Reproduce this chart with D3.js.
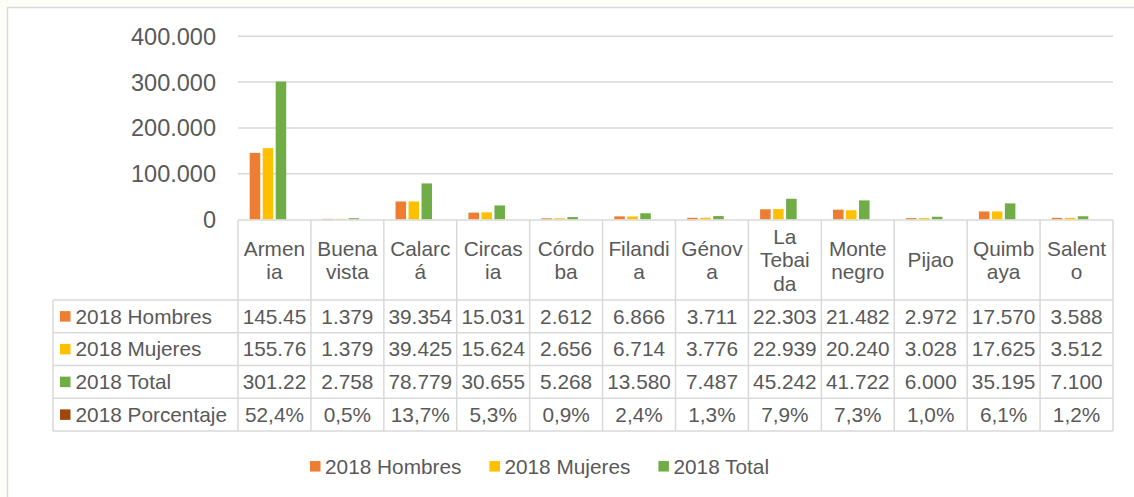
<!DOCTYPE html>
<html>
<head>
<meta charset="utf-8">
<script src="https://cdn.jsdelivr.net/npm/d3@7"></script>
<style>
    body { margin: 0; background: #fdfdf8; }
    svg { display: block; font-family: "Liberation Sans", Arial, sans-serif; }
</style>
</head>
<body>
<svg id="chart" width="1134" height="497"></svg>
<script>
// Municipios del Quindío, población 2018
const categories = ['Armenia', 'Buenavista', 'Calarcá', 'Circasia', 'Córdoba', 'Filandia',
    'Génova', 'La Tebaida', 'Montenegro', 'Pijao', 'Quimbaya', 'Salento'];

// how the header cells wrap in the table
const headerLines = [['Armen', 'ia'], ['Buena', 'vista'], ['Calarc', 'á'], ['Circas', 'ia'],
    ['Córdo', 'ba'], ['Filandi', 'a'], ['Génov', 'a'], ['La', 'Tebai', 'da'],
    ['Monte', 'negro'], ['Pijao'], ['Quimb', 'aya'], ['Salent', 'o']];

const hombres = [145455, 1379, 39354, 15031, 2612, 6866, 3711, 22303, 21482, 2972, 17570, 3588];
const mujeres = [155765, 1379, 39425, 15624, 2656, 6714, 3776, 22939, 20240, 3028, 17625, 3512];
const total = [301220, 2758, 78779, 30655, 5268, 13580, 7487, 45242, 41722, 6000, 35195, 7100];
const porcentaje = [52.4, 0.5, 13.7, 5.3, 0.9, 2.4, 1.3, 7.9, 7.3, 1.0, 6.1, 1.2];

const seriesNames = ['2018 Hombres', '2018 Mujeres', '2018 Total', '2018 Porcentaje'];
const seriesColors = ['#ED7D31', '#FFC000', '#70AD47', '#9E480E'];
const yTicks = [0, 100000, 200000, 300000, 400000];

const locale = d3.formatLocale({ decimal: ',', thousands: '.', grouping: [3], currency: ['$', ''] });
const fmtInt = locale.format(',d');
const fmtPct = locale.format('.1f');

const series = [
    { name: seriesNames[0], color: seriesColors[0], values: hombres, bar: hombres, label: hombres.map(fmtInt) },
    { name: seriesNames[1], color: seriesColors[1], values: mujeres, bar: mujeres, label: mujeres.map(fmtInt) },
    { name: seriesNames[2], color: seriesColors[2], values: total, bar: total, label: total.map(fmtInt) },
    // percentages sit on the same axis, so their bars are practically flat
    { name: seriesNames[3], color: seriesColors[3], values: porcentaje, bar: porcentaje.map(v => v / 100), label: porcentaje.map(v => fmtPct(v) + '%') }
];

const textColor = '#595959';
const lineColor = '#d9d9d9';
const fontSize = 20.8;

const svg = d3.select('#chart');

// chart frame
svg.append('rect')
    .attr('x', 7.5).attr('y', 7.5)
    .attr('width', 1200).attr('height', 600)
    .attr('fill', '#ffffff')
    .attr('stroke', lineColor)
    .attr('stroke-width', 1.5);

const plotLeft = 238, plotRight = 1113;
const y = d3.scaleLinear().domain([0, 400000]).range([219.5, 36.3]);
const x0 = d3.scaleBand().domain(categories).range([plotLeft, plotRight]).padding(0);
const x1 = d3.scaleBand().domain(seriesNames).range([0, x0.bandwidth()])
    .paddingInner(0.19).paddingOuter(0.9);

// gridlines + y labels
svg.append('g')
    .selectAll('line')
    .data(yTicks.filter(d => d > 0))
    .join('line')
    .attr('x1', plotLeft).attr('x2', plotRight)
    .attr('y1', d => y(d)).attr('y2', d => y(d))
    .attr('stroke', lineColor)
    .attr('stroke-width', 1.5);

svg.append('g')
    .selectAll('text')
    .data(yTicks)
    .join('text')
    .attr('x', 216)
    .attr('y', d => y(d))
    .attr('dy', '0.36em')
    .attr('text-anchor', 'end')
    .attr('fill', textColor)
    .style('font-size', '23.5px')
    .text(d => fmtInt(d));

// bars
const groups = svg.append('g')
    .selectAll('g')
    .data(series)
    .join('g')
    .attr('fill', d => d.color);

groups.selectAll('rect')
    .data(s => s.bar.map((v, i) => ({ s: s.name, cat: categories[i], v })))
    .join('rect')
    .attr('x', d => x0(d.cat) + x1(d.s))
    .attr('width', x1.bandwidth())
    .attr('y', d => y(d.v))
    .attr('height', d => y(0) - y(d.v));

// data table
const headerTop = 220, headerBottom = 300, rowH = 32.75;
const tableLeft = 53;
const rowY = i => headerBottom + i * rowH;
const tableBottom = rowY(series.length);

const grid = svg.append('g')
    .attr('stroke', lineColor)
    .attr('stroke-width', 1.5);

grid.append('line')
    .attr('x1', plotLeft).attr('x2', plotRight)
    .attr('y1', headerTop).attr('y2', headerTop);

grid.selectAll('line.row')
    .data(d3.range(series.length + 1))
    .join('line')
    .attr('class', 'row')
    .attr('x1', tableLeft).attr('x2', plotRight)
    .attr('y1', i => rowY(i)).attr('y2', i => rowY(i));

grid.append('line')
    .attr('x1', tableLeft).attr('x2', tableLeft)
    .attr('y1', headerBottom).attr('y2', tableBottom);

grid.selectAll('line.col')
    .data(d3.range(categories.length + 1))
    .join('line')
    .attr('class', 'col')
    .attr('x1', i => plotLeft + i * x0.bandwidth())
    .attr('x2', i => plotLeft + i * x0.bandwidth())
    .attr('y1', headerTop).attr('y2', tableBottom);

// header cells
const lineH = 23.5;
const header = svg.append('g')
    .attr('fill', textColor)
    .style('font-size', fontSize + 'px')
    .attr('text-anchor', 'middle');

categories.forEach((c, i) => {
    const lines = headerLines[i];
    const mid = (headerTop + headerBottom) / 2;
    lines.forEach((t, j) => {
        header.append('text')
            .attr('x', x0(c) + x0.bandwidth() / 2)
            .attr('y', mid + (j - (lines.length - 1) / 2) * lineH)
            .attr('dy', '0.35em')
            .text(t);
    });
});

// row labels with legend keys
const rows = svg.append('g')
    .selectAll('g')
    .data(series)
    .join('g')
    .attr('transform', (d, i) => `translate(0,${rowY(i) + rowH / 2})`);

rows.append('rect')
    .attr('x', 60).attr('y', -5.25)
    .attr('width', 10.5).attr('height', 10.5)
    .attr('fill', d => d.color);

rows.append('text')
    .attr('x', 75.5)
    .attr('dy', '0.35em')
    .attr('fill', textColor)
    .style('font-size', fontSize + 'px')
    .text(d => d.name);

// value cells, cut like a spreadsheet when the number is wider than the column
rows.each(function(s) {
    const row = d3.select(this);
    s.label.forEach((lab, i) => {
        const t = row.append('text')
            .attr('x', x0(categories[i]) + x0.bandwidth() / 2)
            .attr('dy', '0.35em')
            .attr('text-anchor', 'middle')
            .attr('fill', textColor)
            .style('font-size', fontSize + 'px')
            .text(lab);
        let str = lab;
        while (t.node().getComputedTextLength() > x0.bandwidth() - 2 && str.length > 1) {
            str = str.slice(0, -1);
            t.text(str);
        }
    });
});

// legend at the bottom (percent series is left out)
const legend = svg.append('g')
    .attr('transform', 'translate(310,466.3)');

let lx = 0;
series.slice(0, 3).forEach(s => {
    const item = legend.append('g').attr('transform', `translate(${lx},0)`);
    item.append('rect')
        .attr('y', -5.25)
        .attr('width', 10.5).attr('height', 10.5)
        .attr('fill', s.color);
    const t = item.append('text')
        .attr('x', 15)
        .attr('dy', '0.35em')
        .attr('fill', textColor)
        .style('font-size', fontSize + 'px')
        .text(s.name);
    lx += 15 + t.node().getComputedTextLength() + 28;
});
</script>
</body>
</html>
